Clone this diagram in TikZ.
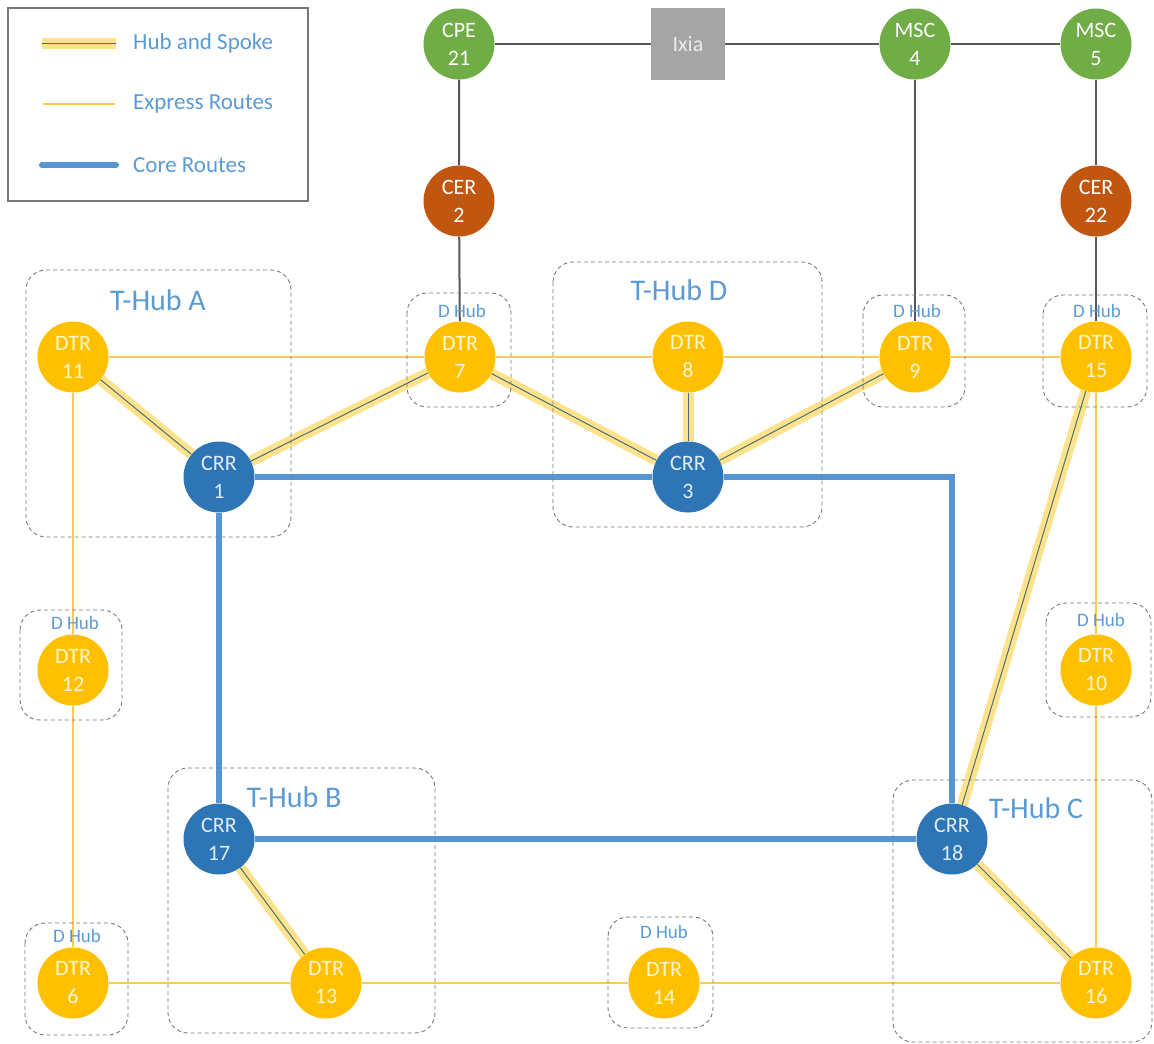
\documentclass[tikz,border=0pt]{standalone}
\usepackage{fontspec}
\setmainfont{Carlito}
\pgfdeclarelayer{paper}
\pgfdeclarelayer{edges}
\pgfsetlayers{paper,edges,main}
\definecolor{dtrfill}{RGB}{255,192,0}
\definecolor{crrfill}{RGB}{46,117,182}
\definecolor{greenfill}{RGB}{112,173,71}
\definecolor{cerfill}{RGB}{192,86,16}
\definecolor{ixiafill}{RGB}{165,165,165}
\definecolor{dtrtext}{RGB}{255,246,210}
\definecolor{crrtext}{RGB}{226,236,250}
\definecolor{hubtext}{RGB}{91,155,213}
\definecolor{coreline}{RGB}{86,148,212}
\definecolor{exline}{RGB}{249,204,80}
\definecolor{hsglow}{RGB}{255,226,140}
\definecolor{hsline}{RGB}{72,112,118}
\definecolor{linkgray}{RGB}{88,88,88}
\definecolor{boxgray}{RGB}{120,120,120}
\tikzset{
  router/.style={circle, minimum size=71pt, inner sep=0pt, align=center,
    font=\fontsize{22}{28}\selectfont},
  dtr/.style={router, fill=dtrfill, text=dtrtext},
  crr/.style={router, fill=crrfill, text=crrtext},
  edge/.style={router, fill=greenfill, text=white},
  cer/.style={router, fill=cerfill, text=white},
  tester/.style={rectangle, minimum width=74pt, minimum height=72pt, inner sep=0pt,
    fill=ixiafill, text=white!92!black, font=\fontsize{22}{26}\selectfont},
  hubspoke/.style={draw=hsline, line width=1pt, preaction={draw=hsglow, line width=11pt}},
  express/.style={draw=exline, line width=2.5pt},
  core/.style={draw=coreline, line width=6pt},
  link/.style={draw=linkgray, line width=2pt},
  hubbox/.style={draw=boxgray, dash pattern=on 4pt off 3pt, line width=0.9pt, rounded corners=20pt},
  thublabel/.style={text=hubtext, font=\fontsize{30}{32}\selectfont, inner sep=0pt},
  dhublabel/.style={text=hubtext, font=\fontsize{19}{20}\selectfont, inner sep=0pt},
  legendtext/.style={text=hubtext, font=\fontsize{23}{25}\selectfont, anchor=west, inner sep=0pt},
}
\begin{document}
\begin{tikzpicture}[x=1pt, y=-1pt]
\useasboundingbox (0,0) rectangle (1154,1044);
\begin{pgfonlayer}{paper}
  \fill[white] (0,0) rectangle (1154,1044);
\end{pgfonlayer}

% legend
\draw[draw=boxgray, line width=1.2pt] (8,8) rectangle (308,201);
\draw[hubspoke, line cap=round] (42,43) -- (116,43);
\draw[express] (43,104) -- (115,104);
\draw[core, line cap=round] (42,165) -- (116,165);
\node[legendtext] (lhs) at (133,43) {Hub and Spoke};
\node[legendtext] (lex) at (133,104) {Express Routes};
\node[legendtext] (lco) at (133,165) {Core Routes};

% hub groupings
\draw[hubbox] (26,270) rectangle (291,537);
\node[thublabel] (tha) at (158,300) {T-Hub A};
\draw[hubbox] (553,262) rectangle (822,527);
\node[thublabel] (thd) at (679,290) {T-Hub D};
\draw[hubbox] (168,768) rectangle (435,1033);
\node[thublabel] (thb) at (294,797) {T-Hub B};
\draw[hubbox] (893,780) rectangle (1152,1042);
\node[thublabel] (thc) at (1036,808) {T-Hub C};

\draw[hubbox] (407,293) rectangle (511,407);
\node[dhublabel] (dh7) at (462,311) {D Hub};
\draw[hubbox] (863,295) rectangle (965,407);
\node[dhublabel] (dh9) at (917,311) {D Hub};
\draw[hubbox] (1043,295) rectangle (1147,407);
\node[dhublabel] (dh15) at (1097,311) {D Hub};
\draw[hubbox] (20,610) rectangle (122,720);
\node[dhublabel] (dh12) at (75,623) {D Hub};
\draw[hubbox] (1046,603) rectangle (1151,717);
\node[dhublabel] (dh10) at (1101,620) {D Hub};
\draw[hubbox] (608,917) rectangle (713,1028);
\node[dhublabel] (dh14) at (664,932) {D Hub};
\draw[hubbox] (25,923) rectangle (128,1035);
\node[dhublabel] (dh6) at (77,936) {D Hub};

% routers
\node[edge] (cpe21) at (459,44) {CPE\\21};
\node[tester] (ixia) at (688,44) {Ixia};
\node[edge] (msc4) at (915,44) {MSC\\4};
\node[edge] (msc5) at (1096,44) {MSC\\5};
\node[cer] (cer2) at (459,201) {CER\\2};
\node[cer] (cer22) at (1096,201) {CER\\22};

\node[dtr] (d11) at (73,357) {DTR\\11};
\node[dtr] (d7) at (460,357) {DTR\\7};
\node[dtr] (d8) at (688,357) {DTR\\8};
\node[dtr] (d9) at (915,357) {DTR\\9};
\node[dtr] (d15) at (1096,357) {DTR\\15};
\node[dtr] (d12) at (73,670) {DTR\\12};
\node[dtr] (d10) at (1096,670) {DTR\\10};
\node[dtr] (d6) at (73,983) {DTR\\6};
\node[dtr] (d13) at (326,983) {DTR\\13};
\node[dtr] (d14) at (664,983) {DTR\\14};
\node[dtr] (d16) at (1096,983) {DTR\\16};

\node[crr] (c1) at (219,477) {CRR\\1};
\node[crr] (c3) at (688,477) {CRR\\3};
\node[crr] (c17) at (219,839) {CRR\\17};
\node[crr] (c18) at (952,839) {CRR\\18};

\begin{pgfonlayer}{edges}
  % access links
  \draw[link] (cpe21) -- (ixia) -- (msc4) -- (msc5);
  \draw[link] (cpe21) -- (cer2) -- (d7);
  \draw[link] (msc4) -- (d9);
  \draw[link] (msc5) -- (cer22) -- (d15);
  % express routes
  \draw[express] (d11) -- (d7) -- (d8) -- (d9) -- (d15);
  \draw[express] (d11) -- (d12) -- (d6);
  \draw[express] (d6) -- (d13) -- (d14) -- (d16);
  \draw[express] (d15) -- (d10) -- (d16);
  % core routes
  \draw[core] (c1) -- (c3);
  \draw[core] (c3) -| (c18);
  \draw[core] (c1) -- (c17);
  \draw[core] (c17) -- (c18);
  % hub and spoke
  \draw[hubspoke] (d11) -- (c1);
  \draw[hubspoke] (c1) -- (d7);
  \draw[hubspoke] (d7) -- (c3);
  \draw[hubspoke] (d8) -- (c3);
  \draw[hubspoke] (d9) -- (c3);
  \draw[hubspoke] (d15) -- (c18);
  \draw[hubspoke] (c17) -- (d13);
  \draw[hubspoke] (c18) -- (d16);
\end{pgfonlayer}
\end{tikzpicture}
\end{document}
